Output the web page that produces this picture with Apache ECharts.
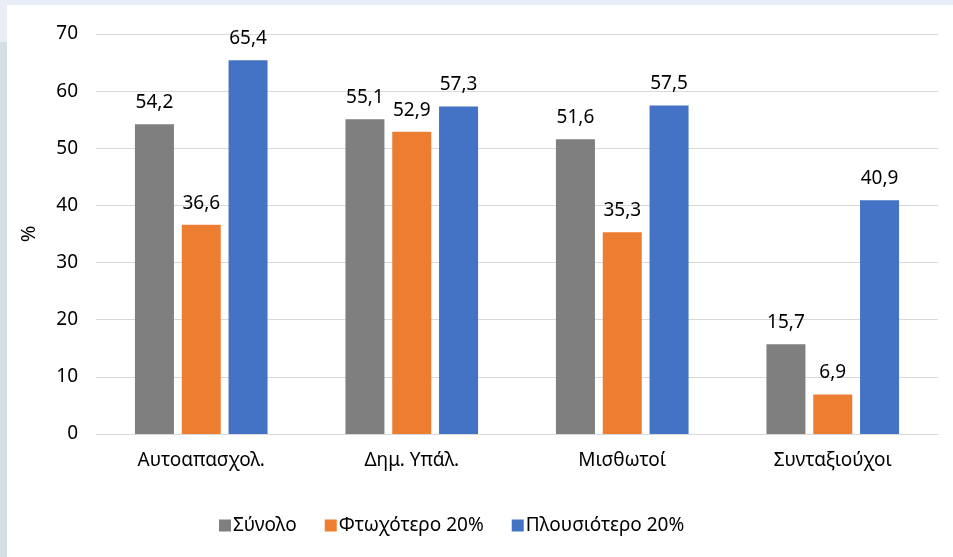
<!DOCTYPE html>
<html>
<head>
<meta charset="utf-8">
<script src="https://cdn.jsdelivr.net/npm/echarts@6/dist/echarts.min.js"></script>
<style>
  html, body { margin: 0; padding: 0; width: 953px; height: 557px; overflow: hidden; background: #e9eef6; }
  #side { position: absolute; left: 0; top: 42px; width: 7px; height: 515px; background: #d5dde5; }
  #chart { position: absolute; left: 7px; top: 5px; width: 946px; height: 552px; background: #ffffff; }
</style>
</head>
<body>
<div id="side"></div>
<div id="chart"></div>
<script>
const categories = ['Αυτοαπασχολ.', 'Δημ. Υπάλ.', 'Μισθωτοί', 'Συνταξιούχοι'];
const seriesNames = ['Σύνολο', 'Φτωχότερο 20%', 'Πλουσιότερο 20%'];
const totalValues = [54.2, 55.1, 51.6, 15.7];
const poorestValues = [36.6, 52.9, 35.3, 6.9];
const richestValues = [65.4, 57.3, 57.5, 40.9];
const colors = ['#7f7f7f', '#ed7d31', '#4472c4'];

const font = 'Noto Sans';
const fs = 19;
const chart = echarts.init(document.getElementById('chart'));

function barSeries(name, data, color) {
  return {
    name: name,
    type: 'bar',
    data: data,
    barGap: '20%',
    barCategoryGap: '37%',
    itemStyle: { color: color },
    label: {
      show: true,
      position: 'top',
      distance: 12,
      color: '#000',
      fontFamily: font,
      fontSize: fs,
      formatter: p => String(p.value).replace('.', ',')
    }
  };
}

chart.setOption({
  animation: false,
  textStyle: { fontFamily: font },
  grid: { left: 89, right: 15, top: 29, bottom: 123 },
  legend: {
    top: 506,
    left: 207,
    itemWidth: 12,
    itemHeight: 12,
    itemGap: 28,
    icon: 'rect',
    textStyle: { fontFamily: font, fontSize: fs, color: '#000', padding: [0, 0, 0, -3] },
    data: seriesNames
  },
  xAxis: {
    type: 'category',
    data: categories,
    axisTick: { show: false },
    axisLine: { lineStyle: { color: '#d9d9d9', width: 1 } },
    axisLabel: { color: '#000', fontFamily: font, fontSize: fs, margin: 17 }
  },
  yAxis: {
    type: 'value',
    min: 0,
    max: 70,
    interval: 10,
    name: '%',
    nameLocation: 'middle',
    nameGap: 57,
    nameRotate: 90,
    nameTextStyle: { color: '#000', fontFamily: font, fontSize: 20 },
    axisLine: { show: false },
    axisTick: { show: false },
    splitLine: { lineStyle: { color: '#d9d9d9', width: 1 } },
    axisLabel: { color: '#000', fontFamily: font, fontSize: fs, margin: 18 }
  },
  series: [
    barSeries(seriesNames[0], totalValues, colors[0]),
    barSeries(seriesNames[1], poorestValues, colors[1]),
    barSeries(seriesNames[2], richestValues, colors[2])
  ]
});
</script>
</body>
</html>
